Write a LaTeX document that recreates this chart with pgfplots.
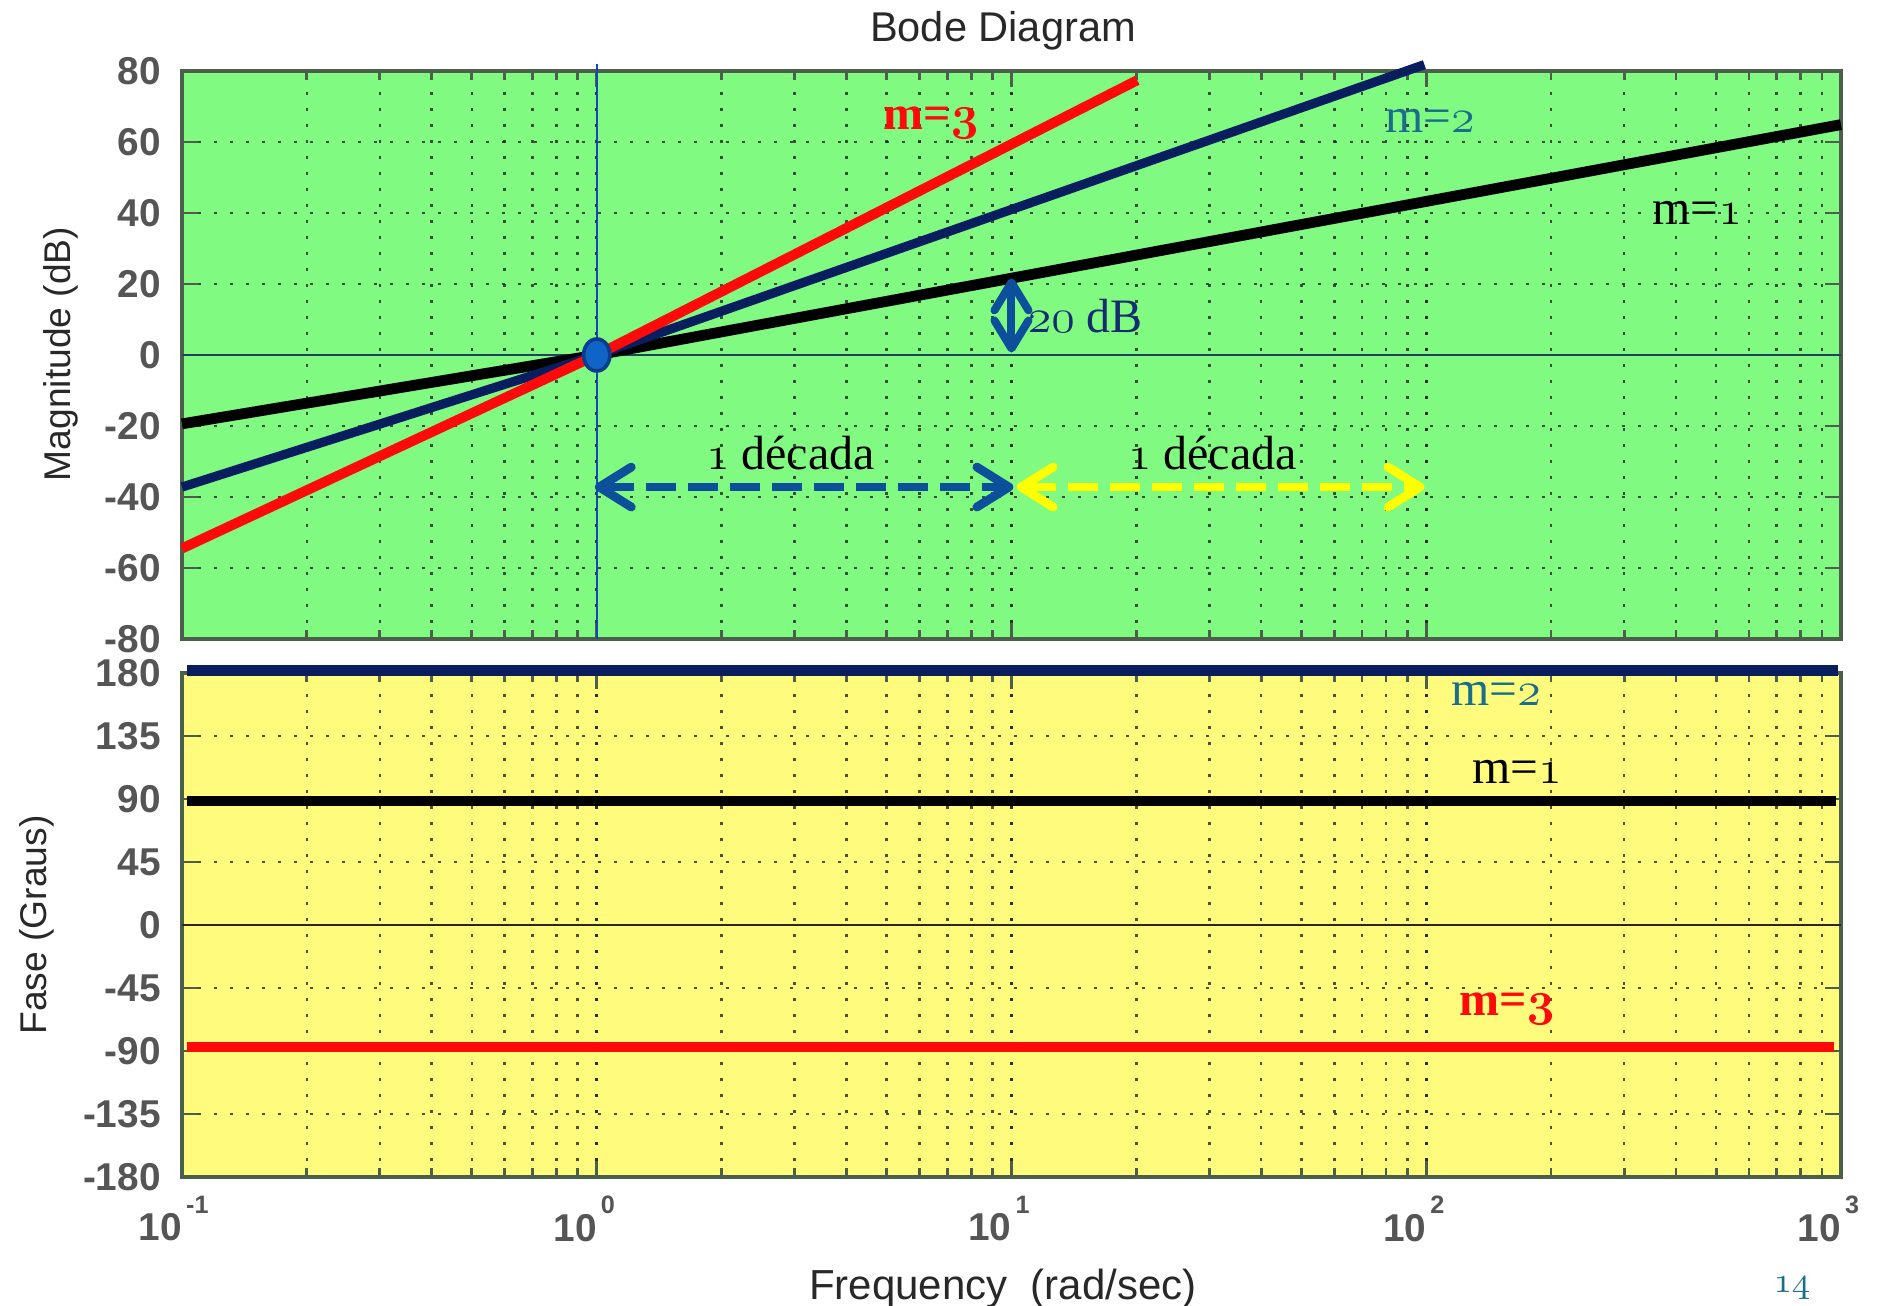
\documentclass[border=0pt]{standalone}
\usepackage{pgfplots}
\pgfplotsset{compat=1.18}
\usepackage{fontspec}
\usetikzlibrary{arrows.meta}
\newfontfamily\msans{Liberation Sans}
\newfontfamily\aserif{Liberation Serif}
\definecolor{bggreen}{RGB}{128,250,128}
\definecolor{bgyellow}{RGB}{255,252,125}
\definecolor{navyc}{RGB}{8,30,95}
\definecolor{redc}{RGB}{255,10,10}
\definecolor{tealc}{RGB}{25,110,140}
\definecolor{arrblue}{RGB}{12,80,155}
\definecolor{dbtext}{RGB}{20,45,110}
\definecolor{vblue}{RGB}{20,70,190}
\definecolor{zeroc}{RGB}{30,70,90}
\definecolor{framec}{RGB}{75,95,75}
\definecolor{tickgray}{RGB}{85,85,85}
\definecolor{labc}{RGB}{40,40,40}
\definecolor{circf}{RGB}{15,100,200}
\definecolor{circd}{RGB}{10,60,140}
\definecolor{arryellow}{RGB}{255,255,0}
\newcommand\osn[1]{{\usefont{OML}{cmm}{m}{it}#1}}
\newcommand\osnb[1]{{\usefont{OML}{cmm}{b}{it}#1}}
\newcommand\xl[1]{\llap{10}\rlap{\raisebox{6.8pt}{\fontsize{6.3}{7}\selectfont\,#1}}}
\pgfplotsset{bode/.style={
  scale only axis, width=414.75pt, anchor=south west,
  xmin=0.1, xmax=1000,
  xtick={0.1,1,10,100,1000},
  tick align=inside, xtick pos=both, ytick pos=both,
  axis line style={framec, line width=0.8pt},
  tick style={framec, line width=0.7pt},
  major tick length=4pt, minor tick length=2.2pt,
  grid=both,
  major grid style={black!85, opacity=0.8, line width=0.65pt, dash pattern=on 0.7pt off 3.3pt},
  minor grid style={black!85, opacity=0.8, line width=0.65pt, dash pattern=on 0.7pt off 3.3pt},
  ticklabel style={font=\msans\bfseries\fontsize{9.7}{11}\selectfont, text=tickgray},
  yticklabel style={xshift=-1.8pt, inner ysep=0pt},
  xticklabel style={anchor=north, yshift=-1.3pt},
  clip=false,
}}
\begin{document}
\begin{tikzpicture}[x=1pt,y=1pt]
\path[use as bounding box] (0,0) rectangle (469.25,326.5);
% ---------- Magnitude ----------
\begin{axis}[xmode=log, bode, at={(45.5pt,166.75pt)}, height=142pt,
  ymin=-80, ymax=80, ytick={-80,-60,-40,-20,0,20,40,60,80},
  yticklabels={-80,-60,-40,-20,0,20,40,60,80},
  xticklabels={},
  axis background/.style={fill=bggreen}]
\addplot[zeroc, line width=0.7pt] coordinates {(0.1,0) (1000,0)};
\addplot[vblue, line width=0.6pt] coordinates {(1,-80) (1,82)};
\addplot[black, line width=2.7pt] coordinates {(0.1,-19.4) (1,0) (1000,64.9)};
\addplot[navyc, line width=2.3pt] coordinates {(0.1,-37.2) (1,0) (99,81.8)};
\addplot[redc, line width=2.5pt] coordinates {(0.1,-54.5) (1,0) (20.1,77.4)};
\addplot[only marks, mark=*, mark size=4pt, mark options={fill=circf, draw=circd, line width=0.9pt, xscale=0.82}] coordinates {(1,0)};
\addplot[arrblue, line width=2.2pt, dash pattern=on 7.5pt off 3pt,
  {Straight Barb[length=8pt,width=10pt,round]}-{Straight Barb[length=8pt,width=10pt,round]}]
  coordinates {(0.99,-37.2) (10.1,-37.2)};
\addplot[arryellow, line width=2.2pt, dash pattern=on 7.5pt off 3pt,
  {Straight Barb[length=8pt,width=10pt,round]}-{Straight Barb[length=8pt,width=10pt,round]}]
  coordinates {(10.3,-37.2) (99,-37.2)};
\addplot[arrblue, line width=2pt,
  {Straight Barb[length=7pt,width=8.5pt,round]}-{Straight Barb[length=7pt,width=8.5pt,round]}]
  coordinates {(10,0.7) (10,21.6)};
\node[text=redc, font=\aserif\bfseries\fontsize{12}{14}\selectfont] at (axis cs:6.4,65.4) {m=\osnb{3}};
\node[text=tealc, font=\aserif\fontsize{12.3}{14}\selectfont] at (axis cs:102,65.9) {m=\osn{2}};
\node[text=black, font=\aserif\fontsize{12.3}{14}\selectfont] at (axis cs:450,40) {m=\osn{1}};
\node[text=dbtext, font=\aserif\fontsize{12}{14}\selectfont, anchor=west, inner sep=0pt] at (axis cs:10.9,11) {\osn{20} dB};
\node[text=black, font=\aserif\fontsize{12}{14}\selectfont] at (axis cs:2.93,-27.5) {\osn{1} década};
\node[text=black, font=\aserif\fontsize{12}{14}\selectfont] at (axis cs:30.5,-27.5) {\osn{1} década};
\end{axis}
% ---------- Phase ----------
\begin{axis}[xmode=log, bode, at={(45.5pt,32.25pt)}, height=126pt,
  ymin=-180, ymax=180, ytick={-180,-135,-90,-45,0,45,90,135,180},
  yticklabels={-180,-135,-90,-45,0,45,90,135,180},
  xticklabels={\xl{-1},\xl{0},\xl{1},\xl{2},\xl{3}},
  axis background/.style={fill=bgyellow}]
\addplot[labc, line width=0.7pt] coordinates {(0.1,0) (1000,0)};
\addplot[navyc, line width=2.75pt] coordinates {(0.103,182) (986,182)};
\addplot[black, line width=2.7pt] coordinates {(0.103,88.6) (975,88.6)};
\addplot[redc, line width=2.5pt] coordinates {(0.103,-87.5) (960,-87.5)};
\node[text=tealc, font=\aserif\fontsize{12.3}{14}\selectfont] at (axis cs:147.5,165) {m=\osn{2}};
\node[text=black, font=\aserif\fontsize{12.3}{14}\selectfont] at (axis cs:165.5,109) {m=\osn{1}};
\node[text=redc, font=\aserif\bfseries\fontsize{12}{14}\selectfont] at (axis cs:156.6,-60) {m=\osnb{3}};
\end{axis}
% ---------- texts ----------
\node[text=labc, font=\msans\fontsize{10.4}{12}\selectfont] at (250.75,318.9) {Bode Diagram};
\node[text=labc, font=\msans\fontsize{10.5}{12}\selectfont] at (250.75,4.3) {Frequency\ \ (rad/sec)};
\node[text=labc, font=\msans\fontsize{9.3}{11}\selectfont, rotate=90] at (15.3,238) {Magnitude (dB)};
\node[text=labc, font=\msans\fontsize{9.3}{11}\selectfont, rotate=90] at (9.3,95.25) {Fase (Graus)};
\node[text=tealc, font=\aserif\fontsize{9}{10}\selectfont] at (448,4.5) {\osn{14}};
\end{tikzpicture}
\end{document}
